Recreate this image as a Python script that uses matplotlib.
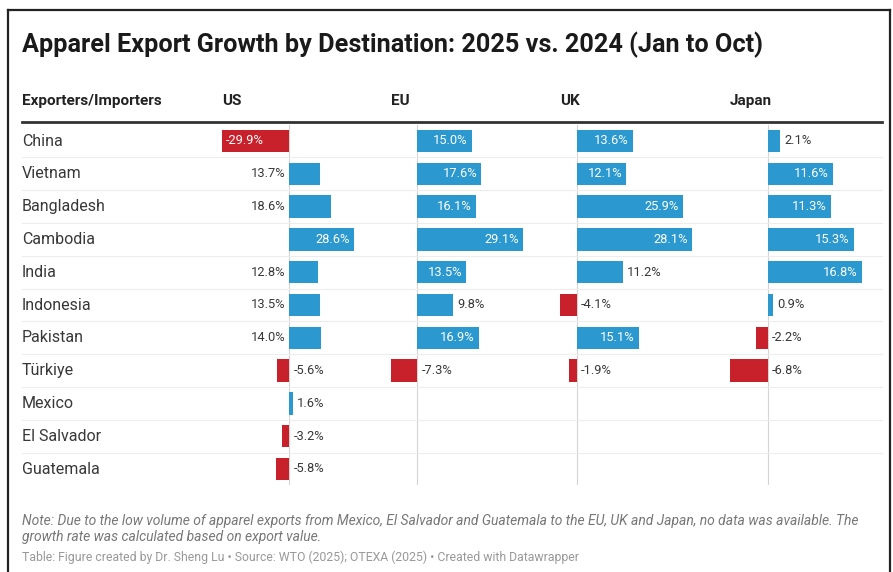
import matplotlib
matplotlib.use("Agg")
import matplotlib.pyplot as plt
from matplotlib.transforms import blended_transform_factory
from matplotlib.lines import Line2D

plt.rcParams["font.family"] = ["Roboto", "DejaVu Sans"]

# ---- data -------------------------------------------------------------
exporters = ["China", "Vietnam", "Bangladesh", "Cambodia", "India", "Indonesia",
             "Pakistan", "Türkiye", "Mexico", "El Salvador", "Guatemala"]
importers = ["US", "EU", "UK", "Japan"]

us_growth = [-29.9, 13.7, 18.6, 28.6, 12.8, 13.5, 14.0, -5.6, 1.6, -3.2, -5.8]
eu_growth = [15.0, 17.6, 16.1, 29.1, 13.5, 9.8, 16.9, -7.3, None, None, None]
uk_growth = [13.6, 12.1, 25.9, 28.1, 11.2, -4.1, 15.1, -1.9, None, None, None]
japan_growth = [2.1, 11.6, 11.3, 15.3, 16.8, 0.9, -2.2, -6.8, None, None, None]

title = "Apparel Export Growth by Destination: 2025 vs. 2024 (Jan to Oct)"
row_header = "Exporters/Importers"
note_1 = ("Note: Due to the low volume of apparel exports from Mexico, El Salvador and Guatemala "
          "to the EU, UK and Japan, no data was available. The")
note_2 = "growth rate was calculated based on export value."
source = ("Table: Figure created by Dr. Sheng Lu \u2022 Source: WTO (2025); OTEXA (2025) "
          "\u2022 Created with Datawrapper")

# ---- layout (pixels) ----------------------------------------------------
W, H = 893, 572
BLUE = "#2b98cf"
RED = "#c9212c"
TEXT = "#383838"

fig = plt.figure(figsize=(W / 100, H / 100), dpi=100)
fig.patch.set_facecolor("white")


def fx(px):
    return px / W


def fy(py):
    return 1 - py / H


# outer frame
for xs, ys in [([8, 8], [10, 600]), ([8, 890], [10, 10]), ([890, 890], [10, 600])]:
    fig.add_artist(Line2D([fx(x) for x in xs], [fy(y) for y in ys],
                          color="#222222", lw=1.6, transform=fig.transFigure))

fig.text(fx(22), fy(45), title, fontsize=18.2, fontweight="bold",
         color="#1a1a1a", va="center", ha="left")

col_left = [222, 391, 560, 730]
col_w = 132
row_top, row_h = 141, 32.8
n = len(exporters)
ax_top = row_top - row_h / 2
ax_h = row_h * n

series = [us_growth, eu_growth, uk_growth, japan_growth]
axes = []
for name, left, vals in zip(importers, col_left, series):
    ax = fig.add_axes([fx(left), fy(ax_top + ax_h), fx(col_w), ax_h / H])
    ax.set_axis_off()
    present = [v for v in vals if v is not None]
    lo, hi = min(min(present), 0), max(max(present), 0)
    ax.set_xlim(lo, hi)
    ax.set_ylim(n - 0.5, -0.5)
    ax.axvline(0, color="#d4d4d4", lw=0.8, zorder=1)

    px_per_unit = col_w / (hi - lo)
    zero_px = -lo * px_per_unit
    for i, v in enumerate(vals):
        if v is None:
            continue
        ax.barh(i, v, height=0.68, color=BLUE if v >= 0 else RED, zorder=2)
        bar_px = abs(v) * px_per_unit
        lab = f"{v:.1f}%"
        kw = dict(fontsize=9.3, va="center", textcoords="offset points", zorder=3)
        if bar_px >= 47:
            if v >= 0:
                ax.annotate(lab, (v, i), xytext=(-3, 0), ha="right", color="white", **kw)
            else:
                ax.annotate(lab, (v, i), xytext=(3, 0), ha="left", color="white", **kw)
        elif v < 0:
            ax.annotate(lab, (0, i), xytext=(3, 0), ha="left", color=TEXT, **kw)
        elif col_w - (zero_px + bar_px) >= 38:
            ax.annotate(lab, (v, i), xytext=(3, 0), ha="left", color=TEXT, **kw)
        else:
            ax.annotate(lab, (0, i), xytext=(-3, 0), ha="right", color=TEXT, **kw)
    axes.append(ax)

    fig.text(fx(left), fy(101), name, fontsize=11, fontweight="bold",
             color="#222222", va="center", ha="left")

fig.text(fx(22), fy(101), row_header, fontsize=11, fontweight="bold",
         color="#222222", va="center", ha="left")

# header rule
fig.add_artist(Line2D([fx(22), fx(882)], [fy(122), fy(122)], color="#333333",
                      lw=2, transform=fig.transFigure))

# row labels and separators
tr = blended_transform_factory(fig.transFigure, axes[0].transData)
for i, name in enumerate(exporters):
    fig.text(fx(22), i, name, fontsize=11.5, color=TEXT, va="center", ha="left",
             transform=tr)
    if i < n - 1:
        fig.add_artist(Line2D([fx(22), fx(882)], [i + 0.5, i + 0.5],
                              color="#ededed", lw=0.8, transform=tr))

fig.text(fx(22), fy(521), note_1, fontsize=10, style="italic", color="#777777",
         va="center", ha="left")
fig.text(fx(22), fy(537), note_2, fontsize=10, style="italic", color="#777777",
         va="center", ha="left")
fig.text(fx(22), fy(557), source, fontsize=8.8, color="#999999", va="center", ha="left")

fig.savefig("out.png", dpi=100, facecolor="white")
